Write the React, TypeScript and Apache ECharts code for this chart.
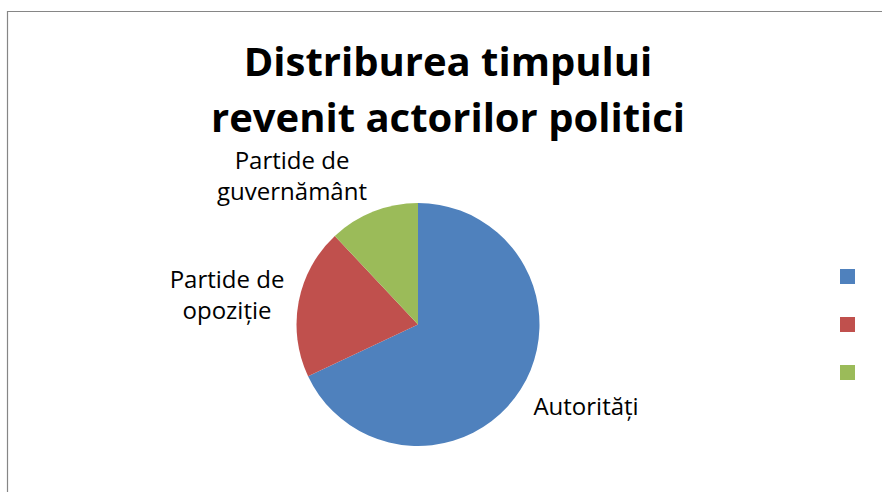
import React, { useEffect, useRef } from "react";
import * as echarts from "echarts";

const TITLE_LINES = ["Distriburea timpului", "revenit actorilor politici"];
const CATEGORIES = ["Autorități", "Partide de opoziție", "Partide de guvernământ"];
const LABEL_TEXTS = ["Autorități", "Partide de\nopoziție", "Partide de\nguvernământ"];
const VALUES = [68, 20, 12];
const COLORS = ["#4F81BD", "#C0504D", "#9BBB59"];
// label anchor points (layout only)
const LABEL_POS = [
  [586, 405],
  [227, 294],
  [292, 175],
];
const TITLE_TOPS = [39, 95];

export default function App() {
  const ref = useRef<HTMLDivElement>(null);
  useEffect(() => {
    if (!ref.current) return;
    const chart = echarts.init(ref.current, undefined, { renderer: "svg" });
    chart.setOption({
      animation: false,
      backgroundColor: "#ffffff",
      color: COLORS,
      title: TITLE_LINES.map((t, i) => ({
        text: t,
        left: 448,
        top: TITLE_TOPS[i],
        padding: 0,
        textAlign: "center",
        textStyle: {
          fontFamily: "Open Sans",
          fontWeight: "bold",
          fontSize: 40,
          lineHeight: 42,
          color: "#000000",
        },
      })),
      legend: {
        orient: "vertical",
        left: 840,
        top: 269,
        padding: 0,
        itemWidth: 15,
        itemHeight: 15,
        itemGap: 33,
        icon: "rect",
        formatter: () => "",
        data: CATEGORIES,
      },
      graphic: [
        {
          type: "rect",
          shape: { x: 7.5, y: 11.5, width: 1000, height: 1000 },
          style: { fill: "none", stroke: "#868686", lineWidth: 1.2 },
          silent: true,
          z: 0,
        },
      ],
      series: [
        {
          type: "pie",
          center: [418, 324.5],
          radius: 121.5,
          startAngle: 90,
          clockwise: true,
          data: CATEGORIES.map((name, i) => ({ name, value: VALUES[i] })),
          itemStyle: { borderWidth: 0 },
          label: {
            show: true,
            position: "outside",
            formatter: (p: any) => LABEL_TEXTS[p.dataIndex],
            fontFamily: "Open Sans",
            fontSize: 24,
            lineHeight: 31,
            color: "#000000",
            align: "center",
          },
          labelLine: { show: false },
          labelLayout: (p: any) => ({
            x: LABEL_POS[p.dataIndex][0],
            y: LABEL_POS[p.dataIndex][1],
            align: "center",
            verticalAlign: "middle",
          }),
        },
      ],
    });
    return () => chart.dispose();
  }, []);
  return (
    <div
      ref={ref}
      style={{ position: "fixed", left: 0, top: 0, width: 882, height: 492 }}
    />
  );
}
